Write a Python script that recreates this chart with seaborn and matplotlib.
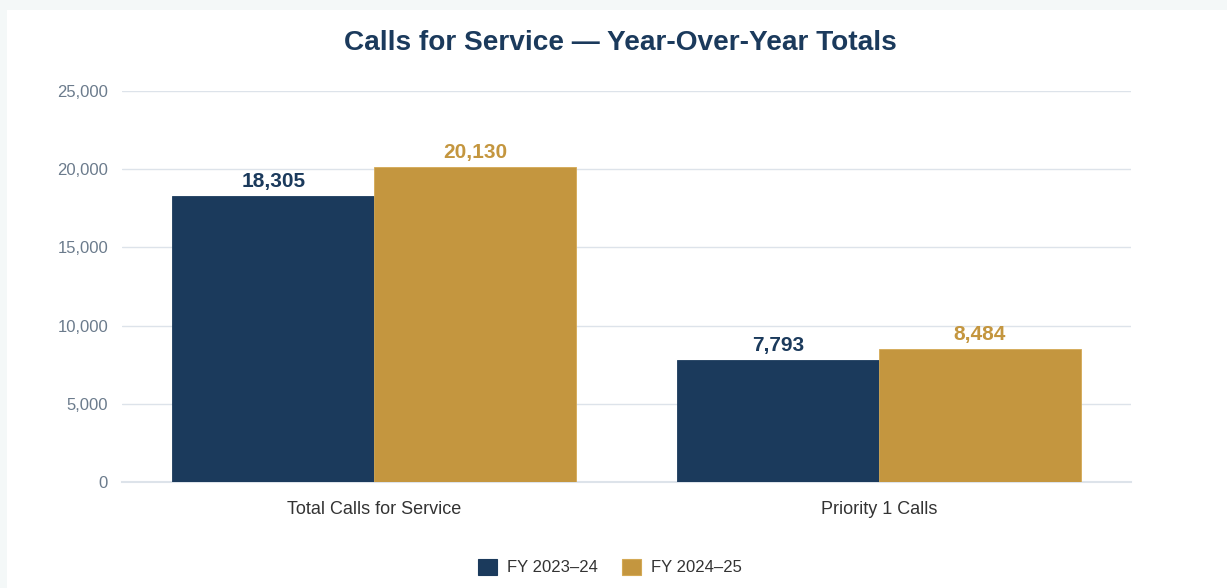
import matplotlib
matplotlib.use("Agg")
import matplotlib.pyplot as plt
from matplotlib.patches import Rectangle
import seaborn as sns
import pandas as pd

categories = ["Total Calls for Service", "Priority 1 Calls"]
periods = ["FY 2023–24", "FY 2024–25"]
fy2324 = [18305, 7793]
fy2425 = [20130, 8484]
yticks = [0, 5000, 10000, 15000, 20000, 25000]

colors = ["#1b3a5c", "#c4963f"]
edge_colors = ["#1b3a5c", "#d4a955"]

df = pd.DataFrame({
    "category": categories * 2,
    "period": [periods[0]] * 2 + [periods[1]] * 2,
    "calls": fy2324 + fy2425,
})

sns.set_theme(style="white")
plt.rcParams["font.family"] = ["Liberation Sans", "DejaVu Sans"]

fig = plt.figure(figsize=(12.27, 5.88), dpi=100, facecolor="#f4f8f8")
# white card behind the chart
fig.patches.append(Rectangle((7 / 1227, 0), 1 - 7 / 1227, 1 - 10 / 588,
                             transform=fig.transFigure, facecolor="white",
                             edgecolor="none", zorder=-5))

ax = fig.add_axes([122 / 1227, 1 - 482 / 588, 1009 / 1227, 391 / 588])
ax.set_zorder(2)
ax.set_facecolor("white")

sns.barplot(data=df, x="category", y="calls", hue="period",
            palette=colors, width=0.8, gap=0, ax=ax, legend=False,
            saturation=1, zorder=3)

for container, ec, col in zip(ax.containers, edge_colors, colors):
    for bar in container:
        bar.set_edgecolor(ec)
        bar.set_linewidth(0.6)
        h = bar.get_height()
        ax.annotate(f"{h:,.0f}", (bar.get_x() + bar.get_width() / 2, h),
                    xytext=(0, 3.6), textcoords="offset points",
                    ha="center", va="bottom", fontsize=15,
                    fontweight="bold", color=col, zorder=5)

ax.set_xlim(-0.5, 1.5)
ax.set_ylim(0, 25000)
ax.set_yticks(yticks)
ax.set_yticklabels([f"{v:,}" for v in yticks])
ax.yaxis.grid(True, color="#dde3ea", linewidth=1, zorder=0)
ax.set_axisbelow(True)
for s in ["top", "right", "left"]:
    ax.spines[s].set_visible(False)
ax.spines["bottom"].set_color("#dde3ea")
ax.spines["bottom"].set_linewidth(1.5)
ax.tick_params(axis="y", length=0, pad=10, labelsize=12, labelcolor="#6b7b8c")
ax.tick_params(axis="x", length=0, pad=14, labelsize=13, labelcolor="#333333")
ax.set_xlabel("")
ax.set_ylabel("")

fig.text(620 / 1227, 1 - 43 / 588, "Calls for Service — Year-Over-Year Totals",
         ha="center", va="center", fontsize=20.2, fontweight="bold",
         color="#1b3a5c")

handles = [Rectangle((0, 0), 1, 1, facecolor=c, edgecolor=ec, linewidth=0.8)
           for c, ec in zip(colors, edge_colors)]
fig.legend(handles, periods, loc="center", bbox_to_anchor=(610 / 1227, 1 - 567 / 588),
           ncol=2, frameon=False, fontsize=12, handlelength=1.15, handleheight=1.15,
           handletextpad=0.6, columnspacing=1.4, labelcolor="#333333")

fig.savefig("out.png", dpi=100, facecolor=fig.get_facecolor())
